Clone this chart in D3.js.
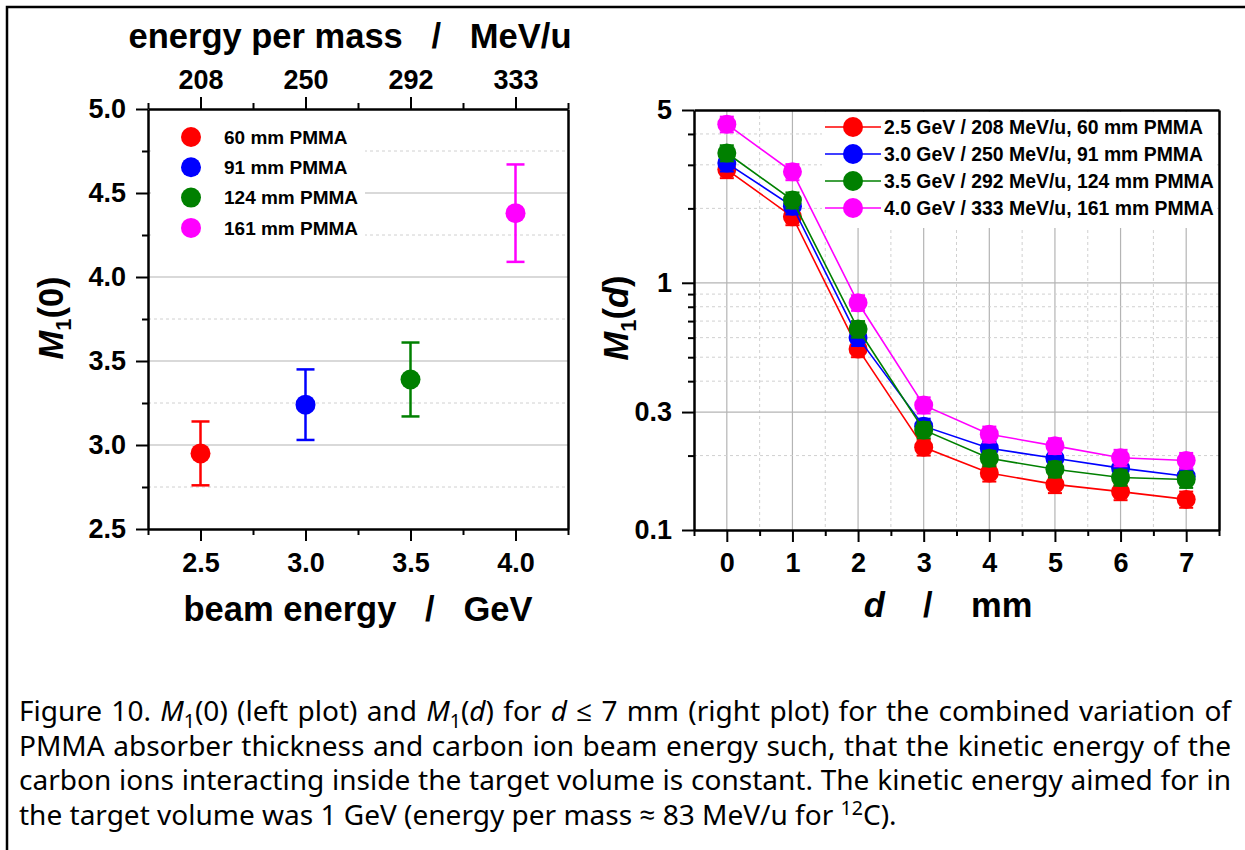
<!DOCTYPE html>
<html>
<head>
<meta charset="utf-8">
<script src="https://cdn.jsdelivr.net/npm/d3@7"></script>
<style>
body { margin: 0; background: #fff; }
svg text { font-family: "Liberation Sans", Arial, sans-serif; fill: #000; }
.axis path, .axis line { stroke: #000; }
.axis .domain { stroke-width: 2.5px; }
.axis .tick line { stroke-width: 2px; }
.axis text { font-size: 27px; font-weight: bold; }
.grid-major { stroke: #b4b4b4; stroke-width: 1.2px; }
.grid-minor { stroke: #d0d0d0; stroke-width: 1px; stroke-dasharray: 3,3; }
.title { font-size: 34.5px; font-weight: bold; white-space: pre; }
.legend text { font-size: 19px; font-weight: bold; }
.legend.right text { font-size: 19.4px; }
.caption { font-family: "Noto Sans", "Open Sans", sans-serif !important; font-size: 22px; }
</style>
</head>
<body>
<svg id="fig" width="1245" height="850"></svg>
<script>

/// left plot: M1(0) vs beam energy
var beamEnergy = [2.5, 3.0, 3.5, 4.0];
var energyPerMass = ["208", "250", "292", "333"];
var absorber = ["60 mm PMMA", "91 mm PMMA", "124 mm PMMA", "161 mm PMMA"];
var m1Zero = [2.95, 3.24, 3.39, 4.38];
var m1ZeroErr = [0.19, 0.21, 0.22, 0.29];
var colors = ["#ff0000", "#0000ff", "#008000", "#ff00ff"];

/// right plot: M1(d) vs d
var depth = [0, 1, 2, 3, 4, 5, 6, 7];
var seriesNames = ["2.5 GeV / 208 MeV/u, 60 mm PMMA", "3.0 GeV / 250 MeV/u, 91 mm PMMA",
                   "3.5 GeV / 292 MeV/u, 124 mm PMMA", "4.0 GeV / 333 MeV/u, 161 mm PMMA"];
var m1Red     = [2.87, 1.85, 0.54, 0.216, 0.170, 0.153, 0.143, 0.133];
var m1Blue    = [3.05, 2.04, 0.60, 0.263, 0.214, 0.195, 0.178, 0.165];
var m1Green   = [3.35, 2.16, 0.65, 0.254, 0.195, 0.176, 0.163, 0.160];
var m1Magenta = [4.38, 2.81, 0.83, 0.320, 0.244, 0.219, 0.196, 0.191];
var errRed     = [0.22, 0.14, 0.04, 0.016, 0.013, 0.012, 0.011, 0.010];
var errBlue    = [0.23, 0.15, 0.045, 0.019, 0.015, 0.014, 0.013, 0.012];
var errGreen   = [0.25, 0.16, 0.05, 0.019, 0.014, 0.013, 0.012, 0.012];
var errMagenta = [0.32, 0.21, 0.06, 0.024, 0.018, 0.016, 0.015, 0.014];
var m1Series = [m1Red, m1Blue, m1Green, m1Magenta];
var errSeries = [errRed, errBlue, errGreen, errMagenta];

/// tick values
var leftYMajor = [2.5, 3.0, 3.5, 4.0, 4.5, 5.0];
var leftYMinor = [2.75, 3.25, 3.75, 4.25, 4.75];
var leftXMinor = [2.25, 2.75, 3.25, 3.75, 4.25];
var rightYMajor = [0.1, 0.3, 1, 5];
var rightYMinor = [0.2, 0.4, 0.5, 0.6, 0.7, 0.8, 0.9, 2, 3, 4];
var rightXMinor = [-0.5, 0.5, 1.5, 2.5, 3.5, 4.5, 5.5, 6.5, 7.5];

var svg = d3.select("#fig");

/// outer frame
svg.append("rect").attr("x", 7).attr("y", 7).attr("width", 1270).attr("height", 880)
   .attr("fill", "none").attr("stroke", "#000").attr("stroke-width", 2.5);

// ---------------- left plot ----------------
var L = {left: 148, right: 568, top: 109, bottom: 529};
var x1 = d3.scaleLinear().domain([2.25, 4.25]).range([L.left, L.right]);
var y1 = d3.scaleLinear().domain([2.5, 5.0]).range([L.bottom, L.top]);
var gL = svg.append("g");

gL.selectAll(".gmin").data(leftYMinor).enter().append("line")
  .attr("class", "grid-minor")
  .attr("x1", L.left).attr("x2", L.right)
  .attr("y1", function(d){ return y1(d); }).attr("y2", function(d){ return y1(d); });
gL.selectAll(".gmaj").data(leftYMajor.slice(1, -1)).enter().append("line")
  .attr("class", "grid-major")
  .attr("x1", L.left).attr("x2", L.right)
  .attr("y1", function(d){ return y1(d); }).attr("y2", function(d){ return y1(d); });

/// legend background hides the grid
gL.append("rect").attr("x", L.left + 3).attr("y", L.top + 4).attr("width", 214).attr("height", 136).attr("fill", "#fff");

function axisMinor(g, axis) {
  g.call(axis);
  g.select(".domain").remove();
}

gL.append("g").attr("class", "axis").attr("transform", "translate(0," + L.bottom + ")")
  .call(d3.axisBottom(x1).tickValues(beamEnergy).tickFormat(d3.format(".1f"))
        .tickSize(12).tickSizeOuter(0).tickPadding(12));
gL.append("g").attr("class", "axis").attr("transform", "translate(0," + L.bottom + ")")
  .call(axisMinor, d3.axisBottom(x1).tickValues(leftXMinor).tickSize(6).tickFormat(""));
gL.append("g").attr("class", "axis").attr("transform", "translate(0," + L.top + ")")
  .call(d3.axisTop(x1).tickValues(beamEnergy).tickFormat(function(d, i){ return energyPerMass[i]; })
        .tickSize(12).tickSizeOuter(0).tickPadding(8));
gL.append("g").attr("class", "axis").attr("transform", "translate(0," + L.top + ")")
  .call(axisMinor, d3.axisTop(x1).tickValues(leftXMinor).tickSize(6).tickFormat(""));
gL.append("g").attr("class", "axis").attr("transform", "translate(" + L.left + ",0)")
  .call(d3.axisLeft(y1).tickValues(leftYMajor).tickFormat(d3.format(".1f"))
        .tickSize(12).tickSizeOuter(0).tickPadding(10));
gL.append("g").attr("class", "axis").attr("transform", "translate(" + L.left + ",0)")
  .call(axisMinor, d3.axisLeft(y1).tickValues(leftYMinor).tickSize(6).tickFormat(""));
gL.append("g").attr("class", "axis").attr("transform", "translate(" + L.right + ",0)")
  .call(d3.axisRight(y1).tickValues([]).tickSizeOuter(0));

/// points with error bars
var pts = gL.selectAll(".pt").data(m1Zero).enter().append("g").attr("class", "pt");
pts.append("line")
  .attr("x1", function(d, i){ return x1(beamEnergy[i]); }).attr("x2", function(d, i){ return x1(beamEnergy[i]); })
  .attr("y1", function(d, i){ return y1(d - m1ZeroErr[i]); }).attr("y2", function(d, i){ return y1(d + m1ZeroErr[i]); })
  .attr("stroke", function(d, i){ return colors[i]; }).attr("stroke-width", 2.5);
[-1, 1].forEach(function(s){
  pts.append("line")
    .attr("x1", function(d, i){ return x1(beamEnergy[i]) - 9; }).attr("x2", function(d, i){ return x1(beamEnergy[i]) + 9; })
    .attr("y1", function(d, i){ return y1(d + s * m1ZeroErr[i]); }).attr("y2", function(d, i){ return y1(d + s * m1ZeroErr[i]); })
    .attr("stroke", function(d, i){ return colors[i]; }).attr("stroke-width", 2.5);
});
pts.append("circle")
  .attr("cx", function(d, i){ return x1(beamEnergy[i]); }).attr("cy", function(d){ return y1(d); })
  .attr("r", 10).attr("fill", function(d, i){ return colors[i]; });

/// legend
var legL = gL.append("g").attr("class", "legend");
absorber.forEach(function(name, i){
  var yy = L.top + 28 + i * 30.3;
  legL.append("circle").attr("cx", L.left + 43).attr("cy", yy).attr("r", 10).attr("fill", colors[i]);
  legL.append("text").attr("x", L.left + 76).attr("y", yy).attr("dy", "0.36em").text(name);
});

/// titles
svg.append("text").attr("class", "title").attr("x", 350).attr("y", 48).attr("text-anchor", "middle")
   .text("energy per mass   /   MeV/u");
svg.append("text").attr("class", "title").attr("x", 358).attr("y", 621).attr("text-anchor", "middle")
   .text("beam energy   /   GeV");

function m1Title(x, arg) {
  var t = svg.append("text").attr("class", "title").attr("text-anchor", "middle")
     .attr("transform", "translate(" + x + ",318) rotate(-90)");
  t.append("tspan").style("font-style", "italic").text("M");
  t.append("tspan").attr("dy", 8).style("font-size", "22px").text("1");
  t.append("tspan").attr("dy", -8).text("(");
  t.append("tspan").style("font-style", arg == "d" ? "italic" : "normal").text(arg);
  t.append("tspan").text(")");
}
m1Title(63, "0");

// ---------------- right plot ----------------
var R = {left: 694, right: 1219, top: 110, bottom: 530};
var x2 = d3.scaleLinear().domain([-0.5, 7.5]).range([R.left, R.right]);
var y2 = d3.scaleLog().domain([0.1, 5]).range([R.bottom, R.top]);
var gR = svg.append("g");

gR.selectAll(".vmin").data(rightXMinor.slice(1, -1)).enter().append("line")
  .attr("class", "grid-minor")
  .attr("x1", function(d){ return x2(d); }).attr("x2", function(d){ return x2(d); })
  .attr("y1", R.top).attr("y2", R.bottom);
gR.selectAll(".vmaj").data(depth).enter().append("line")
  .attr("class", "grid-major")
  .attr("x1", function(d){ return x2(d); }).attr("x2", function(d){ return x2(d); })
  .attr("y1", R.top).attr("y2", R.bottom);
gR.selectAll(".hmin").data(rightYMinor).enter().append("line")
  .attr("class", "grid-minor")
  .attr("x1", R.left).attr("x2", R.right)
  .attr("y1", function(d){ return y2(d); }).attr("y2", function(d){ return y2(d); });
gR.selectAll(".hmaj").data([0.3, 1]).enter().append("line")
  .attr("class", "grid-major")
  .attr("x1", R.left).attr("x2", R.right)
  .attr("y1", function(d){ return y2(d); }).attr("y2", function(d){ return y2(d); });

/// legend background
gR.append("rect").attr("x", 822).attr("y", R.top + 2).attr("width", R.right - 824).attr("height", 116).attr("fill", "#fff");

gR.append("g").attr("class", "axis").attr("transform", "translate(0," + R.bottom + ")")
  .call(d3.axisBottom(x2).tickValues(depth).tickFormat(d3.format("d"))
        .tickSize(12).tickSizeOuter(0).tickPadding(11));
gR.append("g").attr("class", "axis").attr("transform", "translate(0," + R.bottom + ")")
  .call(axisMinor, d3.axisBottom(x2).tickValues(rightXMinor).tickSize(6).tickFormat(""));
gR.append("g").attr("class", "axis").attr("transform", "translate(" + R.left + ",0)")
  .call(d3.axisLeft(y2).tickValues(rightYMajor).tickFormat(function(d){ return String(d); })
        .tickSize(12).tickSizeOuter(0).tickPadding(10));
gR.append("g").attr("class", "axis").attr("transform", "translate(" + R.left + ",0)")
  .call(axisMinor, d3.axisLeft(y2).tickValues(rightYMinor).tickSize(6).tickFormat(""));
gR.append("g").attr("class", "axis").attr("transform", "translate(0," + R.top + ")")
  .call(d3.axisTop(x2).tickValues([]).tickSizeOuter(0));
gR.append("g").attr("class", "axis").attr("transform", "translate(" + R.right + ",0)")
  .call(d3.axisRight(y2).tickValues([]).tickSizeOuter(0));

var line = d3.line()
  .x(function(d, i){ return x2(depth[i]); })
  .y(function(d){ return y2(d); });

m1Series.forEach(function(vals, k){
  var g = gR.append("g");
  var errs = errSeries[k];
  g.append("path").datum(vals).attr("d", line)
    .attr("fill", "none").attr("stroke", colors[k]).attr("stroke-width", 1.6);
  var p = g.selectAll(".m").data(vals).enter().append("g");
  p.append("line")
    .attr("x1", function(d, i){ return x2(depth[i]); }).attr("x2", function(d, i){ return x2(depth[i]); })
    .attr("y1", function(d, i){ return y2(d - errs[i]); }).attr("y2", function(d, i){ return y2(d + errs[i]); })
    .attr("stroke", colors[k]).attr("stroke-width", 2);
  [-1, 1].forEach(function(s){
    p.append("line")
      .attr("x1", function(d, i){ return x2(depth[i]) - 7; }).attr("x2", function(d, i){ return x2(depth[i]) + 7; })
      .attr("y1", function(d, i){ return y2(d + s * errs[i]); }).attr("y2", function(d, i){ return y2(d + s * errs[i]); })
      .attr("stroke", colors[k]).attr("stroke-width", 2);
  });
  p.append("circle")
    .attr("cx", function(d, i){ return x2(depth[i]); }).attr("cy", function(d){ return y2(d); })
    .attr("r", 9.5).attr("fill", colors[k]);
});

/// legend
var legR = gR.append("g").attr("class", "legend right");
seriesNames.forEach(function(name, i){
  var yy = R.top + 17 + i * 27;
  legR.append("line").attr("x1", 825).attr("x2", 881).attr("y1", yy).attr("y2", yy)
      .attr("stroke", colors[i]).attr("stroke-width", 1.6);
  legR.append("circle").attr("cx", 853).attr("cy", yy).attr("r", 10).attr("fill", colors[i]);
  legR.append("text").attr("x", 884).attr("y", yy).attr("dy", "0.36em").text(name);
});

var xt = svg.append("text").attr("class", "title").attr("x", 948).attr("y", 617).attr("text-anchor", "middle");
xt.append("tspan").style("font-style", "italic").text("d");
xt.append("tspan").text("    /    mm");
m1Title(628, "d");

// ---------------- caption ----------------
var captionLines = [
  [["Figure 10. ", ""], ["M", "i"], ["1", "sub"], ["(0) (left plot) and ", ""], ["M", "i"], ["1", "sub"],
   ["(", ""], ["d", "i"], [") for ", ""], ["d", "i"], [" \u2264 7 mm (right plot) for the combined variation of", ""]],
  [["PMMA absorber thickness and carbon ion beam energy such, that the kinetic energy of the", ""]],
  [["carbon ions interacting inside the target volume is constant. The kinetic energy aimed for in", ""]],
  [["the target volume was 1 GeV (energy per mass \u2248 83 MeV/u for ", ""], ["12", "sup"], ["C).", ""]]
];
var capLeft = 19, capRight = 1231, capLastRight = 897;
var capBase = [721, 756, 790, 825];

function richText(t, parts, fs) {
  var shift = 0;
  parts.forEach(function(p){
    var target = p[1] == "sub" ? 0.25 * fs : (p[1] == "sup" ? -0.35 * fs : 0);
    var ts = t.append("tspan").attr("dy", target - shift).text(p[0]);
    shift = target;
    if (p[1] == "i") ts.style("font-style", "italic");
    if (p[1] == "sub" || p[1] == "sup") ts.style("font-size", (0.7 * fs) + "px");
  });
}

/// pick the font size from the last (unjustified) line
var probe = svg.append("text").attr("class", "caption").style("font-size", "22px");
richText(probe, captionLines[3], 22);
var capFs = 22 * (capLastRight - capLeft) / probe.node().getComputedTextLength();
probe.remove();

captionLines.forEach(function(parts, i){
  var t = svg.append("text").attr("class", "caption").attr("x", capLeft).attr("y", capBase[i])
     .style("font-size", capFs + "px");
  richText(t, parts, capFs);
  if (i < 3) {
    var full = parts.map(function(p){ return p[0]; }).join("");
    var nSpaces = full.split(" ").length - 1;
    var extra = (capRight - capLeft) - t.node().getComputedTextLength();
    t.style("word-spacing", (extra / nSpaces) + "px");
  }
});

</script>
</body>
</html>
